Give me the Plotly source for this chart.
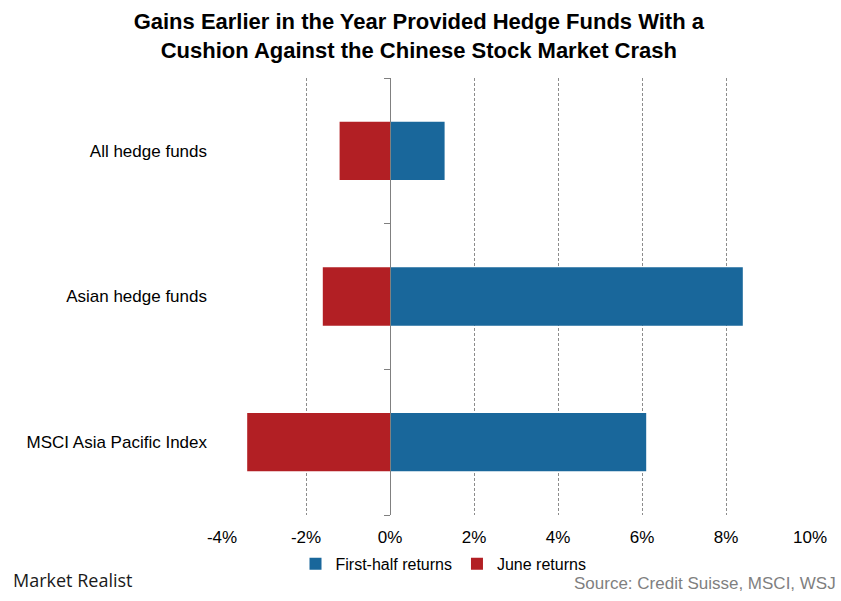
import plotly.graph_objects as go

categories = ["All hedge funds", "Asian hedge funds", "MSCI Asia Pacific Index"]
first_half = [1.3, 8.4, 6.1]
june = [-1.2, -1.6, -3.4]
x_ticks = [-4, -2, 0, 2, 4, 6, 8, 10]
x_tick_labels = ["-4%", "-2%", "0%", "2%", "4%", "6%", "8%", "10%"]
boundary_ticks = [-0.5, 0.5, 1.5, 2.5]

BLUE = "#19679B"
RED = "#B21F24"
FONT = "Arial, Liberation Sans, sans-serif"

fig = go.Figure()
fig.add_trace(go.Bar(y=categories, x=first_half, orientation="h", name="First-half returns",
                     marker=dict(color=BLUE, line=dict(width=0)), width=0.4))
fig.add_trace(go.Bar(y=categories, x=june, orientation="h", name="June returns",
                     marker=dict(color=RED, line=dict(width=0)), width=0.4))
# invisible carrier trace so the zero-position axis (with category boundary ticks) is drawn
fig.add_trace(go.Scatter(y=list(range(len(categories))), x=[0] * len(categories), yaxis="y2",
                         mode="markers", marker=dict(opacity=0), showlegend=False,
                         hoverinfo="skip"))

fig.update_layout(
    width=841, height=601,
    margin=dict(l=222, r=31, t=78, b=86, autoexpand=False),
    paper_bgcolor="white", plot_bgcolor="white",
    barmode="relative",
    font=dict(family=FONT, color="black", size=17),
    title=dict(text="<b>Gains Earlier in the Year Provided Hedge Funds With a<br>Cushion Against the Chinese Stock Market Crash</b>",
               x=0.498, xref="container", xanchor="center", y=0.9517, yref="container", yanchor="top",
               font=dict(size=22, family=FONT, color="black")),
    xaxis=dict(range=[-4, 10], tickvals=x_ticks, ticktext=x_tick_labels,
               showgrid=True, gridcolor="#8c8c8c", griddash="3px,2px", gridwidth=1,
               zeroline=False, showline=False, ticks="", tickfont=dict(size=17),
               ticklabelstandoff=10, domain=[0, 1], automargin=False),
    yaxis=dict(type="category", categoryarray=categories, autorange="reversed",
               showline=False, ticks="", showgrid=False, ticklabelstandoff=14,
               tickfont=dict(size=17), automargin=False),
    yaxis2=dict(range=[2.5, -0.5], tickvals=boundary_ticks,
                overlaying="y", anchor="free", position=4/14, side="left",
                showline=True, linecolor="#808080", linewidth=1,
                ticks="outside", ticklen=6, tickcolor="#808080",
                showticklabels=False, showgrid=False, zeroline=False, automargin=False),
    legend=dict(orientation="h", x=0.125, xanchor="left", y=-0.112, yanchor="middle",
                font=dict(size=16), itemwidth=30, traceorder="normal",
                bgcolor="rgba(0,0,0,0)"),
    annotations=[
        dict(text="Source: Credit Suisse, MSCI, WSJ", xref="paper", yref="paper",
             x=1.047, y=-0.156, xanchor="right", yanchor="middle", showarrow=False,
             font=dict(size=17, color="#7f7f7f")),
        dict(text="Market Realist", xref="paper", yref="paper",
             x=-0.359, y=-0.148, xanchor="left", yanchor="middle", showarrow=False,
             font=dict(size=18, color="#1a1a1a", family="Open Sans, sans-serif")),
    ],
)

fig.write_html("out.html", config={"displayModeBar": False},
               post_script="document.body.style.margin='0';")
